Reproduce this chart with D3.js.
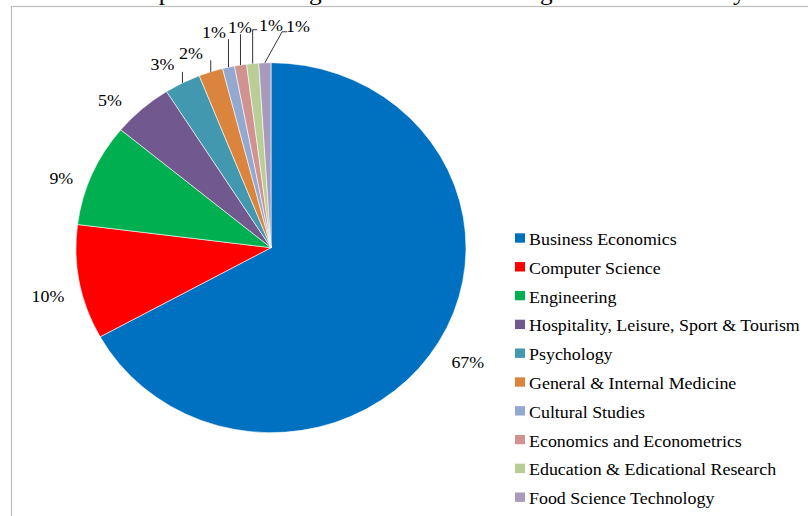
<!DOCTYPE html>
<html>
<head>
<meta charset="utf-8">
<script src="https://cdn.jsdelivr.net/npm/d3@7/dist/d3.min.js"></script>
<style>
  html, body { margin: 0; padding: 0; background: #fff; overflow: hidden; }
  svg { display: block; }
  text { font-family: "Liberation Serif", "Times New Roman", serif; fill: #000; }
</style>
</head>
<body>
<svg id="chart" width="808" height="516"></svg>
<script>
// Subject categories and their share of the studies (%)
const categories = [
  "Business Economics",
  "Computer Science",
  "Engineering",
  "Hospitality, Leisure, Sport & Tourism",
  "Psychology",
  "General & Internal Medicine",
  "Cultural Studies",
  "Economics and Econometrics",
  "Education & Edicational Research",
  "Food Science Technology"
];
const shares = [67, 10, 9, 5, 3, 2, 1, 1, 1, 1];
const colors = [
  "#0070C0", "#FF0000", "#00B050", "#71588F", "#4198AF",
  "#DB843D", "#93A9CF", "#D19392", "#B9CD96", "#A99BBD"
];
const titleText = "Top research categories of articles among the reviewed body";

// Layout
const W = 808, H = 516;
const sx = 1.054;            // horizontal stretch of the whole chart
const cx = 271, cy = 247.7;  // pie centre
const R = 185;               // pie radius (before stretch)
const fontSize = 17;
// label centre offset from the slice's outer edge point at mid-angle
const labelShift = [[29,20.5],[-31.5,14],[-30.7,4],[-32,-9],[-20,-18],[-19.7,-18.5],[-14.5,-35],[-0.5,-37.7],[18.4,-37.8],[33,-36]];
const leaderKind = [null, null, null, null, "up", "up", "up", "up", "side", "diag"];

const svg = d3.select("#chart");

// chart area border (runs past the right and bottom edges)
svg.append("rect")
  .attr("x", 11.5).attr("y", 6.5)
  .attr("width", 900).attr("height", 600)
  .attr("fill", "none")
  .attr("stroke", "#bdbdbd")
  .attr("stroke-width", 1.2);

// title, sitting above the visible area
svg.append("text")
  .attr("transform", `translate(439,-0.5) scale(${sx},1)`)
  .attr("text-anchor", "middle")
  .style("font-size", "24px")
  .text(titleText);

const pie = d3.pie().sort(null).value(d => d)(shares);
const arc = d3.arc().innerRadius(0).outerRadius(R);

const pieG = svg.append("g")
  .attr("transform", `translate(${cx},${cy}) scale(${sx},1)`);

pieG.selectAll("path")
  .data(pie)
  .join("path")
  .attr("d", arc)
  .attr("fill", (d, i) => colors[i])
  .attr("stroke", "#ffffff")
  .attr("stroke-width", 0.6)
  .attr("vector-effect", "non-scaling-stroke");

// outer edge point of each slice at its mid-angle, in page coordinates
function edgePoint(d) {
  const a = (d.startAngle + d.endAngle) / 2;
  return [cx + sx * R * Math.sin(a), cy - R * Math.cos(a)];
}

const labelG = svg.append("g");
pie.forEach((d, i) => {
  const e = edgePoint(d);
  const lx = e[0] + labelShift[i][0];
  const ly = e[1] + labelShift[i][1];
  const label = d.data + "%";
  labelG.append("text")
    .attr("transform", `translate(${lx},${ly + 5.6}) scale(${sx},1)`)
    .attr("text-anchor", "middle")
    .style("font-size", fontSize + "px")
    .text(label);

  const kind = leaderKind[i];
  if (!kind) return;
  const halfW = 10.8;
  let pts;
  if (kind === "up") {
    pts = [[e[0], e[1]], [e[0], ly + 7]];
  } else if (kind === "side") {
    pts = [[e[0], e[1]], [e[0], ly + 4], [lx - halfW - 3, ly + 4]];
  } else {
    pts = [[e[0], e[1]], [lx - halfW - 5, ly + 5], [lx - halfW, ly + 5]];
  }
  labelG.append("path")
    .attr("d", d3.line()(pts))
    .attr("fill", "none")
    .attr("stroke", "#000")
    .attr("stroke-width", 0.8);
});

// legend
const legendX = 515, legendY = 245, legendStep = 28.8;
const legend = svg.append("g");
categories.forEach((name, i) => {
  const y = legendY + i * legendStep;
  legend.append("rect")
    .attr("x", legendX).attr("y", y - 11.7)
    .attr("width", 10).attr("height", 9.4)
    .attr("fill", colors[i]);
  legend.append("text")
    .attr("transform", `translate(${legendX + 14},${y}) scale(${sx},1)`)
    .style("font-size", fontSize + "px")
    .text(name);
});
</script>
</body>
</html>
